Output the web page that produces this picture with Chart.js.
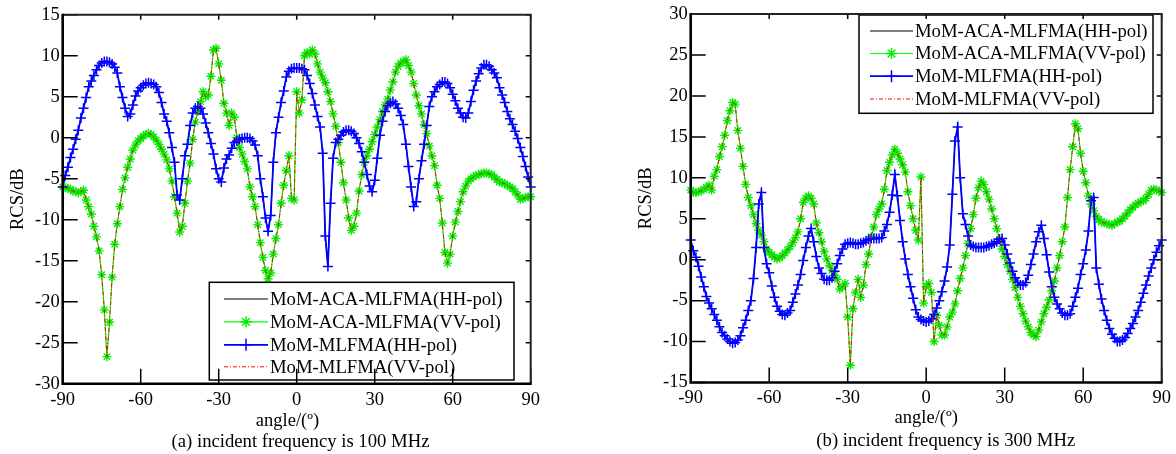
<!DOCTYPE html>
<html>
<head>
<meta charset="utf-8">
<script src="https://cdn.jsdelivr.net/npm/chart.js@4/dist/chart.umd.min.js"></script>
<style>
  body { margin: 0; background: #fff; }
  canvas { position: absolute; top: 0; }
  #chartA { left: 0; }
  #chartB { left: 588px; }
</style>
</head>
<body>
<canvas id="chartA" width="588" height="454"></canvas>
<canvas id="chartB" width="588" height="454"></canvas>
<script>
// angle grid, 1 degree step
const angles = Array.from({ length: 181 }, (_, i) => i - 90);
const xTicks = [-90, -60, -30, 0, 30, 60, 90];
const yTicksA = [15, 10, 5, 0, -5, -10, -15, -20, -25, -30];
const yTicksB = [30, 25, 20, 15, 10, 5, 0, -5, -10, -15];

const seriesNames = ["MoM-ACA-MLFMA(HH-pol)", "MoM-ACA-MLFMA(VV-pol)", "MoM-MLFMA(HH-pol)", "MoM-MLFMA(VV-pol)"];

// (a) 100 MHz, HH-pol
const hhA = [
  -6.0, -4.6, -3.6, -2.4, -1.4, -0.2, 0.9, 2.4, 3.6, 4.9,
  6.2, 6.9, 7.6, 8.3, 8.8, 9.1, 9.3, 9.3, 9.2, 9.0,
  8.6, 7.9, 6.2, 4.9, 3.6, 2.6, 2.9, 4.0, 5.1, 5.7,
  6.1, 6.4, 6.6, 6.7, 6.6, 6.5, 6.2, 5.5, 4.3, 2.9,
  2.0, 0.6, -1.2, -3.0, -7.0, -7.6, -5.0, -2.2, -0.8, 1.5,
  3.0, 3.6, 3.8, 3.6, 2.9, 1.8, 0.6, -0.7, -2.0, -3.8,
  -5.0, -5.4, -3.7, -2.6, -2.1, -1.3, -0.6, -0.4, -0.2, -0.1,
  0.0, 0.0, -0.1, -0.4, -0.9, -2.2, -5.0, -7.2, -9.8, -11.4,
  -9.5, -3.0, 0.6, 2.5, 4.3, 5.7, 7.4, 8.1, 8.4, 8.5,
  8.5, 8.5, 8.4, 8.3, 7.6, 6.6, 5.4, 4.0, 2.6, 1.3,
  -1.9, -12.0, -15.7, -8.0, -2.5, -0.6, -0.2, 0.3, 0.7, 0.9,
  0.9, 0.8, 0.5, 0.0, -0.7, -1.7, -3.0, -4.5, -5.9, -6.6,
  -5.2, -2.5, 0.3, 2.0, 3.2, 3.9, 4.2, 4.4, 4.1, 3.6,
  2.7, 1.6, -0.8, -3.5, -6.0, -8.4, -7.8, -5.0, -2.8, -0.8,
  1.5, 3.8, 5.0, 5.6, 6.2, 6.5, 6.8, 6.8, 6.6, 6.1,
  5.3, 4.5, 3.6, 3.0, 2.5, 2.4, 3.0, 4.4, 5.8, 6.9,
  7.8, 8.5, 8.9, 8.9, 8.7, 8.3, 7.9, 7.3, 6.1, 5.2,
  4.3, 3.2, 2.3, 1.6, 0.8, -0.1, -1.2, -2.3, -3.5, -4.8,
  -6.0
];

// (a) 100 MHz, VV-pol
const vvA = [
  -6.0, -6.1, -6.2, -6.3, -6.5, -6.6, -6.7, -6.6, -6.4, -7.6,
  -8.4, -9.3, -10.8, -12.1, -13.8, -16.7, -21.0, -26.7, -22.5, -17.0,
  -13.0, -10.5, -8.4, -6.3, -4.9, -3.6, -2.6, -1.5, -0.9, -0.4,
  -0.1, 0.2, 0.4, 0.5, 0.4, 0.1, -0.3, -0.8, -1.4, -2.0,
  -2.7, -3.8, -5.3, -7.2, -9.2, -11.5, -10.8, -8.0, -5.3, -3.1,
  -0.2, 1.9, 3.2, 4.4, 5.6, 5.0, 5.2, 7.5, 10.7, 10.9,
  9.0, 7.0, 4.2, 3.0, 1.5, 3.0, 2.5, 0.0, -1.2, -2.0,
  -2.9, -3.8, -6.0, -7.2, -8.4, -10.6, -12.8, -14.6, -16.2, -17.2,
  -16.5, -14.2, -12.3, -10.6, -8.0, -5.8, -4.0, -2.2, -7.4, -7.6,
  5.6, 3.0, 4.6, 10.0, 10.4, 10.2, 10.7, 10.2, 9.0, 8.0,
  7.3, 6.7, 5.6, 4.4, 2.9, 1.4, -0.6, -3.0, -5.5, -7.6,
  -9.8, -11.3, -10.8, -9.2, -6.5, -4.5, -3.0, -2.2, -1.4, -0.5,
  0.4, 1.3, 2.2, 3.2, 4.0, 4.7, 5.8, 6.8, 8.0, 8.7,
  9.1, 9.3, 9.5, 8.8, 8.0, 6.6, 5.2, 3.9, 2.9, 1.6,
  0.5, -1.0, -2.2, -3.4, -5.8, -7.4, -10.4, -14.0, -15.3, -14.2,
  -12.0, -10.3, -9.0, -7.8, -6.6, -5.9, -5.3, -5.0, -4.8, -4.6,
  -4.5, -4.4, -4.3, -4.3, -4.4, -4.5, -4.8, -5.1, -5.4, -5.5,
  -5.6, -5.8, -6.0, -6.2, -6.6, -7.0, -7.5, -7.4, -7.3, -7.2,
  -7.2
];

// (b) 300 MHz, HH-pol
const hhB = [
  2.4, 1.1, 0.3, -0.8, -2.1, -3.3, -4.5, -5.3, -6.0, -6.7,
  -7.4, -8.2, -8.9, -9.3, -9.7, -10.0, -10.2, -10.1, -9.8, -9.3,
  -8.3, -7.4, -6.2, -5.0, -2.3, 1.5, 6.8, 8.2, 1.5, -0.5,
  -1.6, -3.2, -4.6, -5.7, -6.3, -6.7, -6.8, -6.5, -6.2, -5.2,
  -4.2, -3.1, -1.8, -0.1, 1.5, 2.9, 3.8, 2.2, 0.4, -1.0,
  -1.7, -2.4, -2.5, -2.5, -2.2, -1.4, -0.5, 0.5, 1.3, 1.9,
  2.0, 2.1, 2.0, 1.9, 1.9, 2.0, 2.1, 2.3, 2.5, 2.6,
  2.6, 2.6, 2.6, 2.7, 3.5, 4.3, 5.8, 7.9, 10.4, 7.8,
  4.8, 2.2, 0.1, -1.8, -3.3, -4.7, -6.1, -7.0, -7.3, -7.5,
  -7.6, -7.5, -7.2, -6.7, -5.9, -5.0, -3.9, -2.6, -0.9, 1.8,
  8.0, 14.5, 16.2, 10.0, 5.6, 4.3, 2.9, 1.8, 1.6, 1.5,
  1.5, 1.5, 1.5, 1.6, 1.7, 1.9, 2.0, 2.2, 2.5, 2.6,
  1.8, 0.7, -0.4, -1.4, -2.2, -2.8, -3.1, -3.1, -2.8, -1.9,
  -0.6, 0.7, 2.2, 3.4, 4.2, 2.6, 0.6, -1.5, -3.3, -4.6,
  -5.4, -6.0, -6.5, -6.8, -6.8, -6.6, -5.7, -4.6, -3.5, -1.8,
  -0.5, 1.2, 3.5, 7.2, 7.6, -1.0, -3.0, -4.8, -6.2, -7.4,
  -8.4, -9.1, -9.6, -10.0, -10.0, -9.8, -9.5, -9.0, -8.4, -7.8,
  -7.0, -6.2, -5.2, -4.1, -3.1, -2.0, -1.0, 0.0, 0.9, 1.7,
  2.4
];

// (b) 300 MHz, VV-pol
const vvB = [
  8.5, 8.2, 8.2, 8.3, 8.4, 8.6, 8.8, 9.1, 8.5, 10.2,
  11.0, 12.6, 13.8, 15.2, 17.0, 18.2, 19.2, 19.0, 15.8, 13.6,
  11.4, 9.2, 7.6, 6.6, 5.5, 4.4, 3.6, 3.0, 2.2, 1.3,
  0.9, 0.6, 0.3, 0.1, 0.2, 0.5, 0.8, 1.2, 1.6, 2.1,
  2.7, 3.4, 5.0, 7.0, 7.5, 7.8, 7.5, 6.8, 4.5, 3.3,
  2.2, 1.0, 0.1, -0.7, -1.3, -1.9, -2.4, -3.6, -3.3, -2.9,
  -7.0, -12.9, -6.0, -4.0, -2.4, -4.6, -3.1, -0.6, 0.7, 2.8,
  4.0, 5.5, 6.2, 6.8, 8.6, 10.9, 11.9, 12.8, 13.5, 13.0,
  12.3, 11.6, 10.7, 8.3, 6.6, 5.0, 3.6, 2.4, 10.1, -5.3,
  -3.3, -2.9, -4.0, -10.0, -6.8, -8.0, -9.2, -9.2, -8.2, -7.0,
  -6.4, -5.4, -3.8, -2.3, -1.0, 0.5, 2.0, 3.8, 5.5, 7.5,
  8.8, 9.6, 9.2, 8.3, 7.4, 6.2, 5.0, 3.8, 2.5, 1.3,
  0.4, -0.6, -1.4, -2.4, -3.4, -4.6, -5.7, -6.6, -7.5, -8.2,
  -8.9, -9.2, -9.4, -8.6, -7.6, -6.6, -5.8, -4.9, -3.8, -2.6,
  -1.0, 0.5, 2.2, 4.0, 7.6, 11.0, 13.8, 16.6, 16.0, 13.0,
  10.8, 9.4, 7.8, 6.8, 6.0, 5.3, 4.9, 4.6, 4.5, 4.4,
  4.3, 4.2, 4.4, 4.6, 4.7, 5.0, 5.3, 5.7, 6.1, 6.4,
  6.7, 6.9, 7.1, 7.2, 7.5, 8.0, 8.5, 8.6, 8.5, 8.4,
  8.2
];

const FONT = '"Liberation Serif", "Times New Roman", serif';
Chart.defaults.font.family = FONT;
Chart.defaults.font.size = 18.5;
Chart.defaults.color = "#000";

const pts = vals => angles.map((a, i) => ({ x: a, y: vals[i] }));

function makeDatasets(hh, vv) {
    return [
        { label: seriesNames[0], data: pts(hh), borderColor: "#000000", borderWidth: 1, pointRadius: 0, order: 4 },
        { label: seriesNames[1], data: pts(vv), borderColor: "#00ff00", borderWidth: 1.2,
          pointStyle: "star", pointRadius: 4.5, pointBorderColor: "#00ee00", pointBackgroundColor: "#00ee00", pointBorderWidth: 1.4, order: 3 },
        { label: seriesNames[2], data: pts(hh), borderColor: "#0000ff", borderWidth: 1.8,
          pointStyle: "cross", pointRadius: 5, pointBorderColor: "#0000ff", pointBackgroundColor: "#0000ff", pointBorderWidth: 1.5, order: 2 },
        { label: seriesNames[3], data: pts(vv), borderColor: "#ff0000", borderWidth: 1, borderDash: [4, 2, 1, 2], pointRadius: 0, order: 1 }
    ];
}

// legend box, frame with inner ticks, caption
function makeDecor(o) {
    return {
        id: "decor",
        afterDatasetsDraw(chart) {
            const ctx = chart.ctx;
            const b = o.box;
            ctx.save();
            ctx.fillStyle = "#fff";
            ctx.fillRect(b.x, b.y, b.w, b.h);
            ctx.lineWidth = 1.5;
            ctx.strokeStyle = "#000";
            ctx.strokeRect(b.x, b.y, b.w, b.h);
            chart.data.datasets.forEach((ds, i) => {
                const y = b.y + o.rows[i];
                const x1 = b.x + o.lineX[0], x2 = b.x + o.lineX[1];
                ctx.save();
                ctx.strokeStyle = ds.borderColor;
                ctx.lineWidth = ds.borderWidth;
                ctx.setLineDash(ds.borderDash || []);
                ctx.beginPath();
                ctx.moveTo(x1, y);
                ctx.lineTo(x2, y);
                ctx.stroke();
                ctx.setLineDash([]);
                if (ds.pointRadius > 0) {
                    ctx.strokeStyle = ds.pointBorderColor;
                    ctx.fillStyle = ds.pointBorderColor;
                    ctx.lineWidth = ds.pointBorderWidth;
                    Chart.helpers.drawPoint(ctx, { pointStyle: ds.pointStyle, radius: ds.pointRadius + 1, rotation: 0, borderWidth: ds.pointBorderWidth }, (x1 + x2) / 2, y);
                }
                ctx.restore();
                ctx.fillStyle = "#000";
                ctx.font = "18.7px " + FONT;
                ctx.textBaseline = "middle";
                ctx.textAlign = "left";
                ctx.fillText(ds.label, b.x + o.textX, y + 1);
            });
            ctx.restore();
        },
        afterDraw(chart) {
            const ctx = chart.ctx;
            const a = chart.chartArea;
            const xs = chart.scales.x, ys = chart.scales.y;
            ctx.save();
            ctx.lineWidth = 1.5;
            ctx.strokeStyle = "#000";
            ctx.beginPath();
            xTicks.forEach(v => {
                const px = xs.getPixelForValue(v);
                ctx.moveTo(px, a.bottom); ctx.lineTo(px, a.bottom - 15);
                ctx.moveTo(px, a.top); ctx.lineTo(px, a.top + 5);
            });
            o.yTicks.forEach(v => {
                const py = ys.getPixelForValue(v);
                ctx.moveTo(a.left, py); ctx.lineTo(a.left + 15, py);
                ctx.moveTo(a.right, py); ctx.lineTo(a.right - 5, py);
            });
            ctx.stroke();
            // top and right edges
            ctx.lineWidth = 2;
            ctx.strokeStyle = "#222";
            ctx.beginPath();
            ctx.moveTo(a.left, a.top); ctx.lineTo(a.right, a.top); ctx.lineTo(a.right, a.bottom);
            ctx.stroke();
            // left and bottom axes
            ctx.lineWidth = 2.6;
            ctx.strokeStyle = "#000";
            ctx.beginPath();
            ctx.moveTo(a.left, a.top - 1); ctx.lineTo(a.left, a.bottom); ctx.lineTo(a.right + 1, a.bottom);
            ctx.stroke();
            // caption
            ctx.fillStyle = "#000";
            ctx.font = "18.7px " + FONT;
            ctx.textAlign = "center";
            ctx.textBaseline = "middle";
            ctx.fillText(o.caption, o.capX, o.capY);
            ctx.restore();
        }
    };
}

function makeChart(id, hh, vv, o) {
    new Chart(document.getElementById(id), {
        type: "line",
        data: { datasets: makeDatasets(hh, vv) },
        options: {
            responsive: false,
            animation: false,
            events: [],
            devicePixelRatio: 1,
            layout: { padding: o.padding },
            elements: { line: { tension: 0 } },
            plugins: { legend: { display: false }, tooltip: { enabled: false } },
            datasets: { line: { clip: false } },
            scales: {
                x: {
                    type: "linear", min: -90, max: 90,
                    afterBuildTicks: s => { s.ticks = xTicks.map(v => ({ value: v })); },
                    ticks: { padding: 5, maxRotation: 0, autoSkip: false, callback: v => String(v) },
                    grid: { display: false, drawTicks: false },
                    border: { display: false },
                    title: { display: true, text: o.xTitle, padding: { top: 0, bottom: o.xTitlePad } },
                    afterFit: s => { s.height = o.xHeight; }
                },
                y: {
                    type: "linear", min: o.yMin, max: o.yMax,
                    afterBuildTicks: s => { s.ticks = o.yTicks.map(v => ({ value: v })); },
                    ticks: { padding: 3, autoSkip: false, callback: v => String(v) },
                    grid: { display: false, drawTicks: false },
                    border: { display: false },
                    title: { display: true, text: "RCS/dB", padding: { top: 7.4, bottom: 0 } },
                    afterFit: s => { s.width = 62.7; }
                }
            }
        },
        plugins: [makeDecor(o)]
    });
}

makeChart("chartA", hhA, vvA, {
    padding: { left: 0, right: 57.3, top: 14.7, bottom: 0 },
    xHeight: 70.3, xTitlePad: 21.9,
    xTitle: "angle/(º)\u00a0\u00a0\u00a0\u00a0",
    yMin: -30, yMax: 15, yTicks: yTicksA,
    box: { x: 209.3, y: 282.3, w: 304.7, h: 97.7 },
    rows: [16.7, 39.5, 62.5, 84.5], lineX: [14.7, 58.7], textX: 60.7,
    caption: "(a) incident frequency is 100 MHz", capX: 300.5, capY: 442
});

makeChart("chartB", hhB, vvB, {
    padding: { left: 40, right: 14.3, top: 13.3, bottom: 0 },
    xHeight: 71.5, xTitlePad: 24.4,
    xTitle: "angle/(º)",
    yMin: -15, yMax: 30, yTicks: yTicksB,
    box: { x: 271, y: 15, w: 294, h: 98.3 },
    rows: [16, 38.5, 61.2, 84], lineX: [11, 54], textX: 56,
    caption: "(b) incident frequency is 300 MHz", capX: 357.8, capY: 441
});
</script>
</body>
</html>
